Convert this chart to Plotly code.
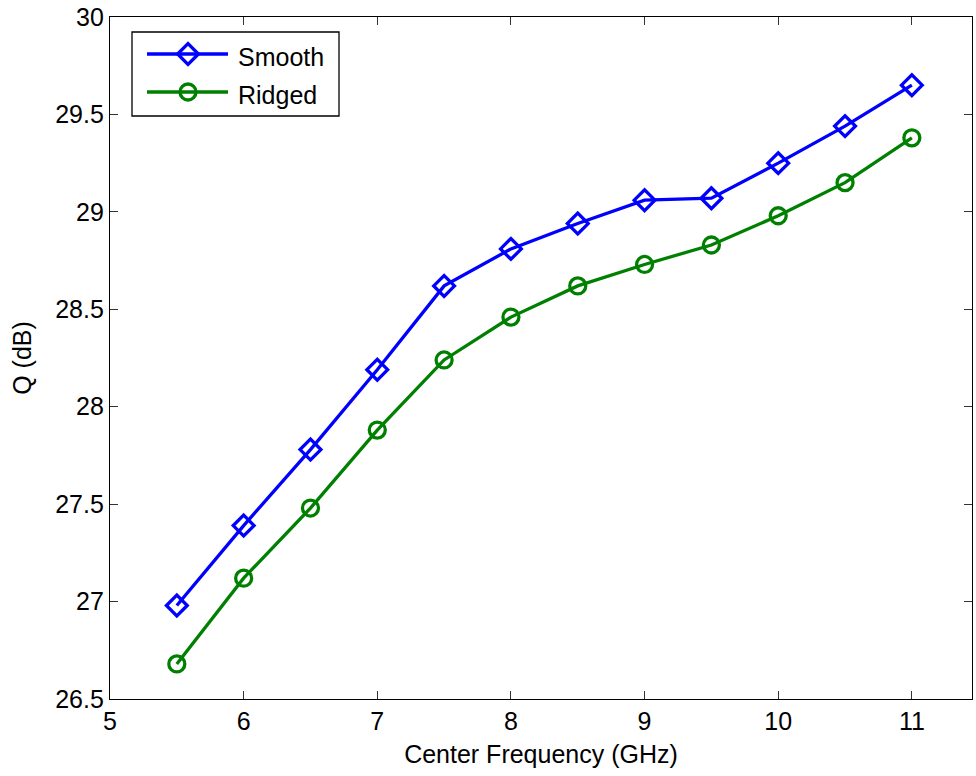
import plotly.graph_objects as go

# Center frequency (GHz) and Q (dB) for the two horn profiles
freq = [5.5, 6.0, 6.5, 7.0, 7.5, 8.0, 8.5, 9.0, 9.5, 10.0, 10.5, 11.0]
q_smooth = [26.98, 27.39, 27.78, 28.19, 28.62, 28.81, 28.94, 29.06, 29.07, 29.25, 29.44, 29.65]
q_ridged = [26.68, 27.12, 27.48, 27.88, 28.24, 28.46, 28.62, 28.73, 28.83, 28.98, 29.15, 29.38]

series_names = ["Smooth", "Ridged"]
series_colors = ["#0000ff", "#008000"]
series_symbols = ["diamond-open", "circle-open"]

x_ticks = [5, 6, 7, 8, 9, 10, 11]
y_ticks = [26.5, 27, 27.5, 28, 28.5, 29, 29.5, 30]

FONT = "Liberation Sans, Arial, sans-serif"
FS = 25
W, H = 976, 776
L, R, T, B = 110, 4, 17, 77
px_left, px_right = L, W - R
px_top, px_bottom = T, H - B

fig = go.Figure()

for name, ys, col, sym in zip(series_names, [q_smooth, q_ridged], series_colors, series_symbols):
    fig.add_trace(go.Scatter(
        x=freq, y=ys, name=name, mode="lines+markers",
        line=dict(color=col, width=3.3),
        marker=dict(symbol=sym, size=16, color=col, line=dict(width=3.3, color=col)),
        showlegend=False,
    ))

# Legend drawn on a pixel-aligned overlay axis
leg_box = dict(x0=132, x1=339, y0=32, y1=116)
leg_rows = [54, 92]
for name, col, sym, yy in zip(series_names, series_colors, series_symbols, leg_rows):
    fig.add_shape(type="line", xref="x2", yref="y2", x0=147, x1=228, y0=yy, y1=yy,
                  line=dict(color=col, width=3.3))
    fig.add_trace(go.Scatter(
        x=[188], y=[yy], xaxis="x2", yaxis="y2", mode="markers", showlegend=False,
        marker=dict(symbol=sym, size=16, color=col, line=dict(width=3.3, color=col)),
        hoverinfo="skip",
    ))
    fig.add_annotation(xref="x2", yref="y2", x=236, y=yy + 3, text=name, showarrow=False,
                       xanchor="left", yanchor="middle",
                       font=dict(family=FONT, size=FS, color="black"))
fig.add_shape(type="rect", xref="x2", yref="y2", line=dict(color="black", width=1.3),
              fillcolor="rgba(0,0,0,0)", **leg_box)

axis_common = dict(
    showgrid=False, zeroline=False, showline=True, linecolor="black", linewidth=1.3,
    mirror="ticks", ticks="inside", ticklen=8, tickcolor="#333333", tickwidth=1,
    tickfont=dict(family=FONT, size=FS, color="black"),
)

fig.update_layout(
    width=W, height=H,
    margin=dict(l=L, r=R, t=T, b=B),
    paper_bgcolor="white", plot_bgcolor="white",
    xaxis=dict(range=[5, 11.45], tickvals=x_ticks, ticktext=[str(v) for v in x_ticks],
               title=dict(text="Center Frequency (GHz)", standoff=11,
                          font=dict(family=FONT, size=FS, color="black")),
               **axis_common),
    yaxis=dict(range=[26.5, 30], tickvals=y_ticks, ticktext=[f"{v:g}" for v in y_ticks],
               title=dict(text="Q (dB)", standoff=16,
                          font=dict(family=FONT, size=FS, color="black")),
               **axis_common),
    xaxis2=dict(overlaying="x", range=[px_left, px_right], visible=False, fixedrange=True),
    yaxis2=dict(overlaying="y", range=[px_bottom, px_top], visible=False, fixedrange=True),
    showlegend=False,
)

fig.write_html("out.html")
